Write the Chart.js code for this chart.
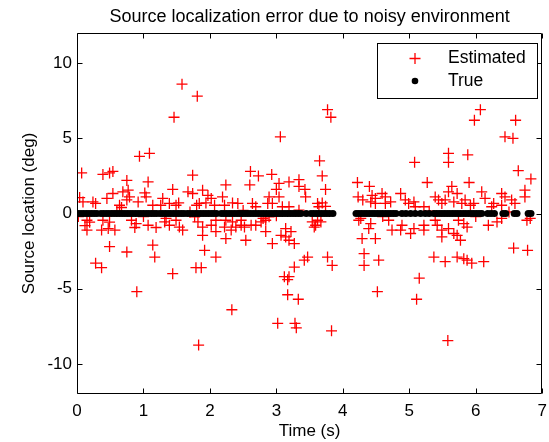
<!DOCTYPE html>
<html><head><meta charset="utf-8">
<script src="https://cdn.jsdelivr.net/npm/chart.js@4.4.1/dist/chart.umd.min.js"></script>
<style>html,body{margin:0;padding:0;background:#fff;}#wrap{width:549px;height:442px;position:relative;}</style>
</head><body><div id="wrap"><canvas id="c" width="549" height="442"></canvas></div>
<script>
const titleText = "Source localization error due to noisy environment";
const xLabel = "Time (s)";
const yLabel = "Source location (deg)";
const seriesNames = ["Estimated", "True"];
const xTicks = [0, 1, 2, 3, 4, 5, 6, 7];
const yTicks = [-10, -5, 0, 5, 10];

const estTime = [
 1.58,1.81,1.46,0.94,1.09,3.77,3.82,3.06,3.65,6.07,
 5.98,6.60,6.44,6.56,5.08,5.59,5.59,5.88,0.07,0.39,
 0.49,0.54,0.75,1.07,1.74,1.44,0.54,0.45,0.69,0.77,
 0.79,0.75,1.02,1.04,0.92,0.04,0.09,0.24,0.28,0.64,
 0.67,1.29,1.26,1.14,1.39,1.49,1.53,1.67,1.74,1.84,
 1.80,1.94,2.07,2.02,1.89,1.97,2.19,2.24,2.22,0.02,
 0.15,0.19,0.12,0.15,0.39,0.49,0.37,0.57,0.47,0.82,
 0.89,0.87,1.07,1.19,1.34,1.32,1.39,1.49,1.54,1.59,
 1.77,1.82,1.89,1.89,2.02,2.09,2.09,2.24,2.22,0.49,
 0.75,1.14,1.17,0.28,0.37,1.44,1.79,1.87,1.92,2.09,
 0.90,1.83,2.33,3.17,3.17,3.33,3.02,3.28,3.30,3.83,
 4.52,5.11,5.58,5.15,2.61,2.73,2.93,2.60,3.69,3.04,
 3.00,3.19,3.34,3.34,3.43,3.74,3.44,3.04,2.34,2.42,
 2.64,2.69,2.89,2.94,2.87,3.09,3.19,3.62,3.69,3.74,
 3.64,3.34,2.24,2.34,2.47,2.32,2.39,2.47,2.52,2.62,
 2.69,2.77,2.80,2.84,2.89,2.54,2.84,2.94,3.07,3.14,
 3.14,3.22,3.19,3.27,3.54,3.59,3.62,3.67,3.57,3.47,
 3.42,3.27,3.12,3.19,3.77,3.84,6.64,6.83,4.22,4.40,
 5.27,5.90,5.64,6.74,6.74,4.23,4.30,4.44,4.49,4.59,
 4.64,4.42,4.49,4.64,4.72,4.87,4.94,4.99,5.07,5.09,
 5.22,5.39,5.44,5.49,5.54,5.59,5.67,5.72,5.79,5.84,
 5.92,5.97,6.09,6.14,6.24,6.27,6.39,6.44,6.39,6.54,
 6.59,4.24,4.39,4.42,4.29,4.49,4.32,4.32,4.54,4.69,
 4.74,4.87,4.89,5.02,5.07,5.22,5.22,5.39,5.42,5.49,
 5.49,5.37,5.54,5.59,5.67,5.72,5.77,5.74,5.82,5.87,
 5.72,5.82,5.87,5.94,6.12,6.19,6.39,6.32,6.57,6.78,
 6.77,6.82,4.27,0.60,1.00,1.70,2.50,3.00,4.60,5.30,
 6.00,6.50
];
const estDeg = [
 8.6,7.8,6.4,3.8,4.0,6.9,6.4,5.1,3.5,6.9,
 6.2,6.2,5.1,5.0,3.4,4.0,3.4,3.9,2.7,2.6,
 2.7,2.8,2.2,2.1,2.55,1.6,1.33,1.0,1.44,1.55,
 1.1,0.9,1.37,1.1,0.77,1.06,0.77,0.77,0.67,0.55,
 0.4,1.0,0.55,0.55,0.67,0.55,0.7,1.44,1.33,0.67,
 0.55,0.7,0.55,1.0,1.55,1.2,1.1,1.9,0.55,-0.2,
 -0.45,-0.58,-0.8,-1.1,-0.45,-0.58,-1.1,-1.1,-1.0,-0.45,
 -0.67,-0.93,-0.78,-0.93,-0.33,-0.56,-0.78,-0.45,-0.9,-1.1,
 -0.22,-0.56,-0.9,-1.45,-0.78,-0.45,-1.2,-1.67,-0.9,-2.2,
 -2.56,-2.1,-2.9,-3.3,-3.6,-4.0,-3.6,-3.6,-2.45,-2.9,
 -5.2,-8.75,-6.4,-4.4,-5.4,-5.7,-7.3,-7.3,-7.6,-7.8,
 -5.2,-5.7,-8.45,-4.3,2.8,2.5,2.6,1.9,2.5,2.0,
 1.6,2.1,2.25,1.8,1.6,1.6,1.1,1.1,0.7,0.67,
 0.67,0.45,1.1,0.67,0.67,0.45,0.45,0.67,0.7,0.48,
 0.45,0.22,-0.45,-0.56,-0.45,-1.1,-0.9,-0.78,-0.9,-0.78,
 -0.78,-0.56,-0.33,-0.45,-0.22,-1.78,-1.2,-2.0,-1.45,-1.0,
 -1.56,-1.2,-1.78,-2.0,-0.56,-0.78,-0.45,-0.56,-0.9,-2.9,
 -3.1,-3.56,-4.2,-4.2,-2.9,-3.45,2.85,2.3,2.06,1.8,
 2.06,2.06,1.8,1.55,1.1,1.1,0.9,1.2,1.0,1.33,
 1.1,0.77,0.67,0.67,0.77,1.33,0.9,0.67,0.77,0.45,
 0.45,1.1,0.9,0.67,0.9,1.44,0.77,1.33,0.67,0.9,
 0.55,0.67,1.44,1.0,0.45,0.67,1.33,1.1,0.55,0.9,
 0.67,-0.45,-1.0,-0.67,-1.67,-1.67,-2.67,-3.45,-3.1,-0.45,
 -1.1,-1.1,-0.78,-1.33,-1.0,-1.1,-0.78,-0.45,-0.78,-1.1,
 -1.56,-2.9,-3.2,-1.0,-1.33,-1.45,-1.78,-0.45,-0.67,-0.9,
 -2.9,-3.0,-3.1,-3.3,-3.2,-0.78,-0.33,-0.56,-2.3,-2.45,
 -0.45,-0.33,-0.33,0.15,-0.2,0.1,0.2,-0.15,-0.2,0.15,
 -0.2,0.1
];
const trueTime = [
 0.02,0.06,0.10,0.14,0.18,0.22,0.26,0.30,
 0.36,0.40,0.44,0.48,0.52,0.56,0.60,0.64,0.68,0.72,0.76,0.80,0.84,0.88,0.92,0.96,1.00,1.04,1.08,1.12,1.16,1.20,
 1.25,1.29,1.33,1.37,1.41,1.45,1.49,1.53,1.57,1.61,
 1.66,1.70,1.74,1.78,1.82,1.86,1.90,1.94,1.98,2.02,2.06,2.10,
 2.17,2.21,2.25,2.29,2.33,2.37,2.41,2.45,2.49,2.53,2.57,2.61,2.65,2.69,2.73,2.77,2.81,2.85,2.89,2.93,2.97,3.01,3.05,3.09,3.13,3.17,3.21,3.25,3.29,3.33,3.37,
 3.45,
 3.52,3.56,3.60,3.64,3.68,3.72,3.76,3.80,3.85,
 4.20,4.24,4.28,4.32,4.36,4.40,4.44,4.48,4.52,4.56,4.60,4.64,4.68,4.72,4.76,4.80,
 4.89,4.95,5.02,5.09,5.17,5.24,5.30,
 5.37,5.41,5.45,5.49,5.53,5.57,5.61,5.65,5.69,5.73,5.77,5.81,5.85,5.89,5.93,5.97,6.01,6.05,6.09,
 6.18,6.23,6.28,
 6.41,6.45,
 6.58,6.62,
 6.79,6.83
];
const trueDegValue = 0;

const FONT = "'Liberation Sans', Arial, Helvetica, sans-serif";
const estPoints = estTime.map((t, i) => ({x: t, y: estDeg[i]}));
const truePoints = trueTime.map(t => ({x: t, y: trueDegValue}));

const boxPlugin = {
  id: 'matlabBox',
  afterDatasetsDraw(chart) {
    const {ctx, chartArea: a, scales: {x, y}} = chart;
    ctx.save();
    ctx.fillStyle = '#000';
    ctx.font = '18px ' + FONT;
    ctx.textAlign = 'center';
    ctx.textBaseline = 'alphabetic';
    ctx.fillText(titleText, (a.left + a.right) / 2, 22);

    ctx.strokeStyle = '#000';
    ctx.lineWidth = 1;
    const L = Math.round(a.left) + 0.5, R = Math.round(a.right) - 0.5;
    const T = Math.round(a.top) + 0.5, B = Math.round(a.bottom) - 0.5;
    ctx.beginPath();
    ctx.rect(L, T, R - L, B - T);
    const tl = 5;
    xTicks.forEach(v => {
      const px = Math.round(x.getPixelForValue(v)) + 0.5;
      ctx.moveTo(px, B); ctx.lineTo(px, B - tl);
      ctx.moveTo(px, T); ctx.lineTo(px, T + tl);
    });
    yTicks.forEach(v => {
      const py = Math.round(y.getPixelForValue(v)) + 0.5;
      ctx.moveTo(L, py); ctx.lineTo(L + tl, py);
      ctx.moveTo(R, py); ctx.lineTo(R - tl, py);
    });
    ctx.stroke();

    const lw = 160, lh = 55;
    const lx = Math.round(a.right) - 5 - lw, ly = Math.round(a.top) + 10;
    ctx.fillStyle = '#fff';
    ctx.fillRect(lx, ly, lw, lh);
    ctx.strokeStyle = '#000';
    ctx.strokeRect(lx + 0.5, ly + 0.5, lw, lh);
    const mx = lx + 38, r1 = ly + 15.5, r2 = ly + 38;
    ctx.strokeStyle = 'rgb(255,0,0)';
    ctx.lineWidth = 1.3;
    ctx.beginPath();
    ctx.moveTo(mx - 5.5, r1); ctx.lineTo(mx + 5.5, r1);
    ctx.moveTo(mx, r1 - 5.5); ctx.lineTo(mx, r1 + 5.5);
    ctx.stroke();
    ctx.fillStyle = '#000';
    ctx.beginPath();
    ctx.arc(mx, r2, 3.3, 0, Math.PI * 2);
    ctx.fill();
    ctx.font = '17.5px ' + FONT;
    ctx.textBaseline = 'middle';
    ctx.textAlign = 'left';
    ctx.fillText(seriesNames[0], lx + 71, r1);
    ctx.fillText(seriesNames[1], lx + 71, r2);
    ctx.restore();
  }
};

new Chart(document.getElementById('c'), {
  type: 'scatter',
  data: {
    datasets: [
      {label: seriesNames[0], data: estPoints, order: 1, pointStyle: 'cross', pointRadius: 5.5,
       pointHoverRadius: 5.5, borderColor: 'rgb(255,0,0)', backgroundColor: 'rgb(255,0,0)', pointBorderWidth: 1.3},
      {label: seriesNames[1], data: truePoints, order: 0, pointStyle: 'circle', pointRadius: 3.6,
       pointHoverRadius: 3.6, borderColor: '#000', backgroundColor: '#000', pointBorderWidth: 0}
    ]
  },
  options: {
    responsive: false,
    animation: false,
    events: [],
    layout: {padding: {left: 0, right: 5, top: 33, bottom: 0}},
    plugins: {
      legend: {display: false},
      tooltip: {enabled: false},
      title: {display: false}
    },
    scales: {
      x: {
        type: 'linear', min: 0, max: 7,
        afterBuildTicks: s => { s.ticks = xTicks.map(v => ({value: v})); },
        afterFit: s => { s.height = 48; s.paddingLeft = 0; s.paddingRight = 0; },
        grid: {display: false, drawTicks: false},
        border: {display: false},
        ticks: {color: '#000', padding: 7, maxRotation: 0, font: {family: FONT, size: 17}},
        title: {display: true, text: xLabel, color: '#000', padding: {top: 0, bottom: 0},
          font: {family: FONT, size: 17, lineHeight: 1.2}}
      },
      y: {
        type: 'linear', min: -12, max: 12,
        afterBuildTicks: s => { s.ticks = yTicks.map(v => ({value: v})); },
        afterFit: s => { s.width = 77; s.paddingTop = 0; s.paddingBottom = 0; },
        grid: {display: false, drawTicks: false},
        border: {display: false},
        ticks: {color: '#000', padding: 5, font: {family: FONT, size: 17}},
        title: {display: true, text: yLabel, color: '#000', padding: {top: 18.8, bottom: 0},
          font: {family: FONT, size: 17, lineHeight: 1.2}}
      }
    }
  },
  plugins: [boxPlugin]
});
</script>
</body></html>
